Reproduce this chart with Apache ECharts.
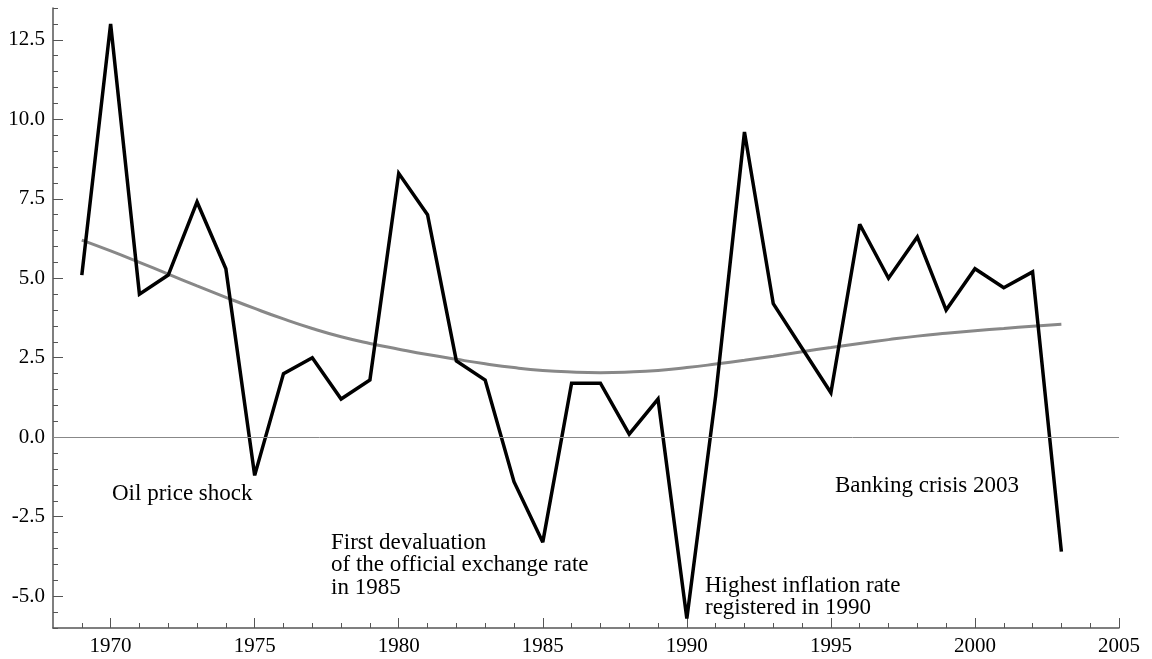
<!DOCTYPE html>
<html>
<head>
<meta charset="utf-8">
<script src="https://cdn.jsdelivr.net/npm/echarts@6/dist/echarts.min.js"></script>
<style>
    html, body { margin: 0; padding: 0; background: #fff; }
    #chart { width: 1152px; height: 659px; }
</style>
</head>
<body>
<div id="chart"></div>
<script>
    // years and values
    var years = [1969, 1970, 1971, 1972, 1973, 1974, 1975, 1976, 1977, 1978, 1979,
        1980, 1981, 1982, 1983, 1984, 1985, 1986, 1987, 1988, 1989,
        1990, 1991, 1992, 1993, 1994, 1995, 1996, 1997, 1998, 1999,
        2000, 2001, 2002, 2003];
    var growth = [5.1, 13.0, 4.5, 5.1, 7.4, 5.3, -1.2, 2.0, 2.5, 1.2, 1.8,
        8.3, 7.0, 2.4, 1.8, -1.4, -3.3, 1.7, 1.7, 0.1, 1.2,
        -5.7, 1.3, 9.6, 4.2, 2.8, 1.4, 6.7, 5.0, 6.3, 4.0,
        5.3, 4.7, 5.2, -3.6];
    var trend = [6.2, 5.86, 5.5, 5.13, 4.76, 4.4, 4.05, 3.72, 3.42, 3.16, 2.95,
        2.77, 2.6, 2.45, 2.31, 2.19, 2.1, 2.05, 2.03, 2.05, 2.1,
        2.19, 2.3, 2.42, 2.55, 2.69, 2.82, 2.95, 3.07, 3.18, 3.27,
        3.35, 3.42, 3.49, 3.55];
    var xTicks = [1970, 1975, 1980, 1985, 1990, 1995, 2000, 2005];
    var yTicks = [-5, -2.5, 0, 2.5, 5, 7.5, 10, 12.5];

    // minor ticks: every year / every 0.5
    var xMinor = [], yMinor = [13.5];
    for (var i = 1969; i <= 2004; i++) { if (i % 5 !== 0) xMinor.push(i); }
    for (var j = -12; j <= 26; j++) { if (j % 5 !== 0) yMinor.push(j / 2); }

    function pairs(vals) {
        return years.map(function (y, k) { return [y, vals[k]]; });
    }

    var font = 'Liberation Serif';
    var axisColor = '#555';
    var noteFont = '23px "Liberation Serif"';

    var myChart = echarts.init(document.getElementById('chart'));
    myChart.setOption({
        animation: false,
        grid: { left: 53, right: 33, top: 8, bottom: 31 },
        xAxis: [
            {
                type: 'value', min: 1968, max: 2005,
                axisLine: { onZero: false, lineStyle: { color: axisColor, width: 1.5 } },
                axisTick: { inside: true, length: 10, customValues: xTicks, lineStyle: { color: axisColor } },
                axisLabel: {
                    customValues: xTicks, margin: 8, color: '#000',
                    fontFamily: font, fontSize: 21,
                    formatter: function (v) { return String(v); }
                },
                splitLine: { show: false }
            },
            {
                type: 'value', min: 1968, max: 2005, position: 'bottom',
                axisLine: { show: false, onZero: false },
                axisTick: { inside: true, length: 5, customValues: xMinor, lineStyle: { color: axisColor } },
                axisLabel: { show: false },
                splitLine: { show: false }
            }
        ],
        yAxis: [
            {
                type: 'value', min: -6, max: 13.5,
                axisLine: { show: true, onZero: false, lineStyle: { color: axisColor, width: 1.5 } },
                axisTick: { show: true, inside: true, length: 10, customValues: yTicks, lineStyle: { color: axisColor } },
                axisLabel: {
                    customValues: yTicks, margin: 8, color: '#000',
                    fontFamily: font, fontSize: 21,
                    formatter: function (v) { return v.toFixed(1); }
                },
                splitLine: { show: false }
            },
            {
                type: 'value', min: -6, max: 13.5, position: 'left',
                axisLine: { show: false, onZero: false },
                axisTick: { show: true, inside: true, length: 5, customValues: yMinor, lineStyle: { color: axisColor } },
                axisLabel: { show: false },
                splitLine: { show: false }
            }
        ],
        series: [
            {
                type: 'line',
                data: pairs(trend),
                smooth: true,
                showSymbol: false,
                lineStyle: { color: '#888', width: 3 },
                markLine: {
                    silent: true,
                    symbol: 'none',
                    label: { show: false },
                    lineStyle: { color: '#888', width: 1, type: 'solid' },
                    data: [{ yAxis: 0 }]
                }
            },
            {
                type: 'line',
                data: pairs(growth),
                showSymbol: false,
                lineStyle: { color: '#000', width: 3.5, join: 'miter', miterLimit: 3 }
            }
        ],
        graphic: [
            { type: 'text', left: 112, top: 482, style: { text: 'Oil price shock', font: noteFont, fill: '#000' } },
            { type: 'text', left: 331, top: 531, style: { text: 'First devaluation\nof the official exchange rate\nin 1985', font: noteFont, lineHeight: 22.5, fill: '#000' } },
            { type: 'text', left: 705, top: 574, style: { text: 'Highest inflation rate\nregistered in 1990', font: noteFont, lineHeight: 22, fill: '#000' } },
            { type: 'text', left: 835, top: 474, style: { text: 'Banking crisis 2003', font: noteFont, fill: '#000' } }
        ]
    });
</script>
</body>
</html>
